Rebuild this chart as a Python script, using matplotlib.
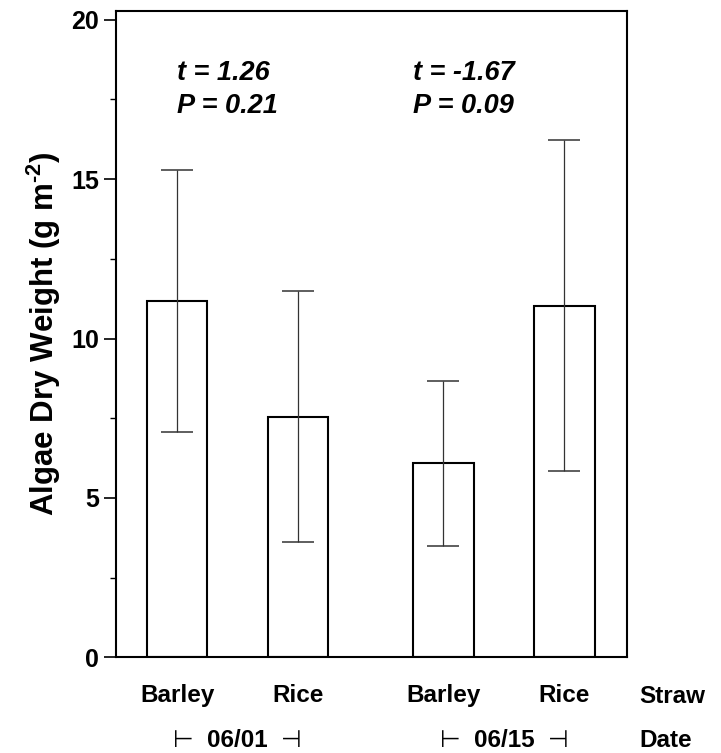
import matplotlib
matplotlib.use("Agg")
import matplotlib.pyplot as plt
import matplotlib.transforms as mtransforms
from matplotlib.ticker import MultipleLocator
import numpy as np

# data
straw = ["Barley", "Rice", "Barley", "Rice"]
dates = ["06/01", "06/15"]
dry_weight = [11.18, 7.55, 6.08, 11.03]
dry_weight_se = [4.10, 3.95, 2.60, 5.20]
t_stats = ["t = 1.26", "t = -1.67"]
p_values = ["P = 0.21", "P = 0.09"]

plt.rcParams["font.family"] = ["Liberation Sans", "DejaVu Sans"]
plt.rcParams["mathtext.fontset"] = "custom"
plt.rcParams["mathtext.rm"] = "Liberation Sans:bold"
plt.rcParams["mathtext.bf"] = "Liberation Sans:bold"

# two bars per date, a gap between the dates
x = np.array([0.0, 1.0, 2.2, 3.2])
width = 0.5

fig = plt.figure(figsize=(7.21, 7.53), dpi=100)
ax = fig.add_axes([0.1605, 0.1272, 0.7087, 0.8588])

ax.bar(x, dry_weight, width=width, color="white", edgecolor="black", linewidth=1.5, zorder=2)
ax.errorbar(x, dry_weight, yerr=dry_weight_se, fmt="none", ecolor="#333333",
            elinewidth=0.9, capsize=11.4, capthick=1.1, zorder=3)

ax.set_xlim(-0.508, 3.715)
ax.set_ylim(0, 20.29)
ax.yaxis.set_major_locator(MultipleLocator(5))
ax.yaxis.set_minor_locator(MultipleLocator(2.5))
ax.tick_params(axis="y", which="major", direction="out", length=9, width=1.2,
               pad=3, labelsize=18)
ax.tick_params(axis="y", which="minor", direction="out", length=4, width=1.0)
for lab in ax.get_yticklabels():
    lab.set_fontweight("bold")
for sp in ax.spines.values():
    sp.set_linewidth(1.5)

ax.set_xticks(x)
ax.set_xticklabels(straw, fontsize=17.5, fontweight="bold")
ax.tick_params(axis="x", length=0, pad=19)

ax.set_ylabel("Algae Dry Weight (g m$^{\\text{-2}}$)", fontsize=22.5, fontweight="bold",
              labelpad=6)

# t-test annotations
ann_x = [x[0], x[2] - width / 2]
for xi, t, p in zip(ann_x, t_stats, p_values):
    ax.text(xi, 18.12, t, fontsize=19.5, fontweight="bold", style="italic",
            ha="left", va="baseline")
    ax.text(xi, 17.07, p, fontsize=19.5, fontweight="bold", style="italic",
            ha="left", va="baseline")

# row labels under the axis
trans = mtransforms.blended_transform_factory(ax.transData, ax.transAxes)
row_x = 3.817
y_straw, y_date = -0.0708, -0.1389
ax.text(row_x, y_straw, "Straw", transform=trans, fontsize=17.5, fontweight="bold",
        ha="left", va="baseline", clip_on=False)
ax.text(row_x, y_date, "Date", transform=trans, fontsize=17.5, fontweight="bold",
        ha="left", va="baseline", clip_on=False)

centers = [(x[0] + x[1]) / 2, (x[2] + x[3]) / 2]
for c, d in zip(centers, dates):
    ax.text(c, y_date, d, transform=trans, fontsize=17.5, fontweight="bold",
            ha="center", va="baseline", clip_on=False)
    ax.text(c - 0.447, y_date, "\u22a2", transform=trans, fontsize=17,
            family="DejaVu Sans", ha="center", va="baseline", clip_on=False)
    ax.text(c + 0.447, y_date, "\u22a3", transform=trans, fontsize=17,
            family="DejaVu Sans", ha="center", va="baseline", clip_on=False)

fig.savefig("out.png", dpi=100)
